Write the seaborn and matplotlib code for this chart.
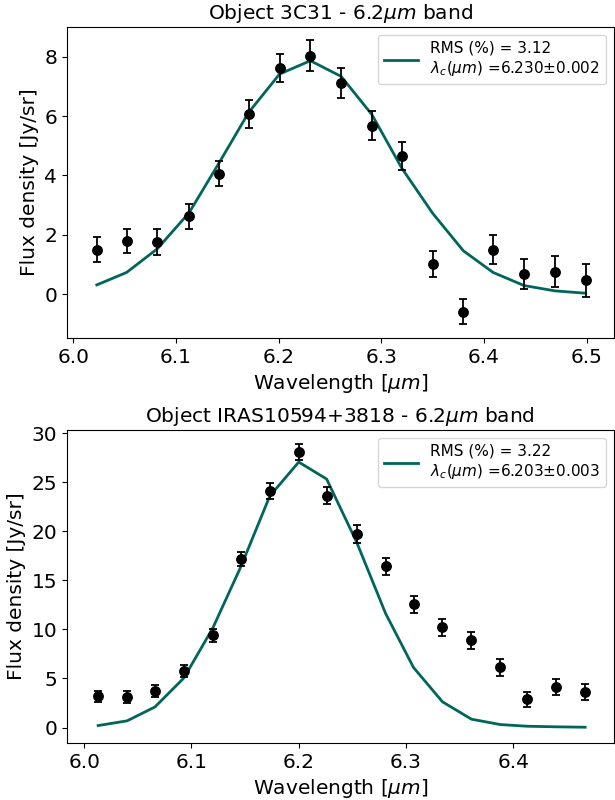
import numpy as np
import pandas as pd
import matplotlib
matplotlib.use("Agg")
import matplotlib.pyplot as plt
import seaborn as sns

# ---- Data: Object 3C31 ----
wl_top = [6.023, 6.052, 6.082, 6.113, 6.142, 6.171, 6.201, 6.231, 6.261,
          6.291, 6.320, 6.350, 6.380, 6.409, 6.439, 6.469, 6.499]
flux_top = [1.49, 1.80, 1.75, 2.63, 4.06, 6.08, 7.63, 8.04, 7.12,
            5.68, 4.66, 1.01, -0.59, 1.49, 0.67, 0.76, 0.46]
err_top = [0.42, 0.40, 0.43, 0.42, 0.43, 0.47, 0.48, 0.52, 0.51,
           0.48, 0.46, 0.43, 0.42, 0.49, 0.51, 0.53, 0.56]
fit_top = [0.31, 0.73, 1.53, 2.75, 4.42, 6.13, 7.42, 7.87, 7.34,
           6.05, 4.25, 2.73, 1.46, 0.73, 0.29, 0.11, 0.03]
label_top = "RMS (%) = 3.12\n$\\lambda_c(\\mu m)$ =6.230$\\pm$0.002"
title_top = "Object 3C31 - 6.2$\\mu m$ band"

# ---- Data: Object IRAS10594+3818 ----
wl_bot = [6.013, 6.040, 6.066, 6.093, 6.120, 6.146, 6.173, 6.200, 6.226,
          6.254, 6.281, 6.307, 6.334, 6.361, 6.388, 6.413, 6.440, 6.467]
flux_bot = [3.19, 3.12, 3.74, 5.78, 9.42, 17.17, 24.11, 28.09, 23.64,
            19.72, 16.46, 12.55, 10.20, 8.88, 6.12, 2.86, 4.14, 3.63]
err_bot = [0.56, 0.61, 0.63, 0.60, 0.65, 0.70, 0.78, 0.82, 0.87,
           0.90, 0.87, 0.88, 0.85, 0.83, 0.82, 0.77, 0.80, 0.83]
fit_bot = [0.20, 0.68, 2.10, 5.06, 10.17, 16.39, 23.60, 27.07, 25.34,
           18.90, 11.63, 6.12, 2.62, 0.85, 0.30, 0.13, 0.07, 0.03]
label_bot = "RMS (%) = 3.22\n$\\lambda_c(\\mu m)$ =6.203$\\pm$0.003"
title_bot = "Object IRAS10594+3818 - 6.2$\\mu m$ band"

LINE_COLOR = "#00665c"

plt.rcParams['font.family'] = ['DejaVu Sans']
plt.rcParams['mathtext.fontset'] = 'dejavusans'

fig = plt.figure(figsize=(6.15, 8.0), dpi=100)
ax1 = fig.add_axes([0.109, 0.5775, 0.889, 0.3885])
ax2 = fig.add_axes([0.109, 0.071, 0.889, 0.3915])

def draw(ax, wl, flux, err, fit, label, title):
    df = pd.DataFrame({"wl": wl, "flux": flux, "err": err, "fit": fit})
    sns.lineplot(data=df, x="wl", y="fit", ax=ax, color=LINE_COLOR,
                 linewidth=2, label=label, zorder=2)
    ax.errorbar(df["wl"], df["flux"], yerr=df["err"], fmt='o', color='black',
                ecolor='black', markersize=6.8, capsize=3, elinewidth=1.3,
                capthick=1.3, zorder=3)
    ax.set_title(title, fontsize=14.5)
    ax.set_xlabel("Wavelength [$\\mu m$]", fontsize=14.5)
    ax.set_ylabel("Flux density [Jy/sr]", fontsize=14.5)
    ax.tick_params(labelsize=14.5)
    ax.legend(loc='upper right', fontsize=11, handlelength=2.2)

draw(ax1, wl_top, flux_top, err_top, fit_top, label_top, title_top)
draw(ax2, wl_bot, flux_bot, err_bot, fit_bot, label_bot, title_bot)

ax1.set_xlim(5.994, 6.5265)
ax1.set_ylim(-1.48, 9.0)
ax1.set_xticks([6.0, 6.1, 6.2, 6.3, 6.4, 6.5])
ax1.set_yticks([0, 2, 4, 6, 8])

ax2.set_xlim(5.984, 6.4937)
ax2.set_ylim(-1.6, 30.34)
ax2.set_xticks([6.0, 6.1, 6.2, 6.3, 6.4])
ax2.set_yticks([0, 5, 10, 15, 20, 25, 30])

fig.savefig("out.png", dpi=100)
